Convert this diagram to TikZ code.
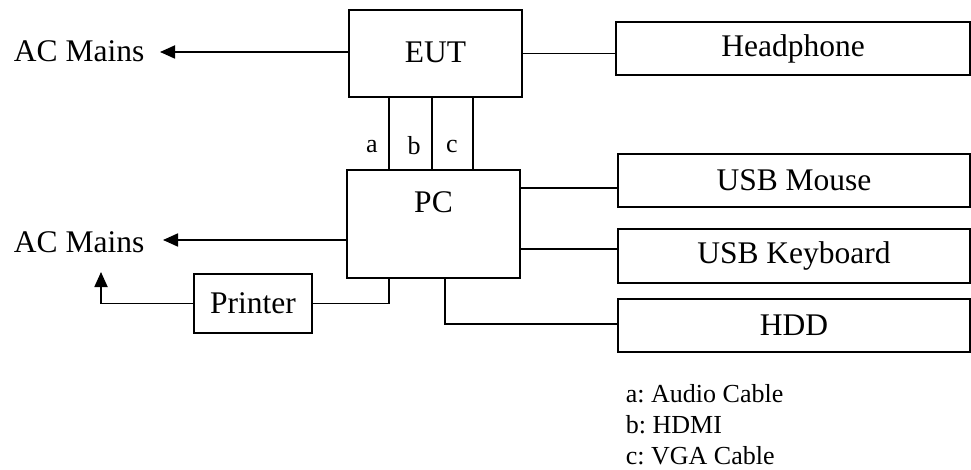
\documentclass[tikz,border=0pt]{standalone}
\usepackage{fontspec}
\setmainfont{Liberation Serif}
\usetikzlibrary{arrows.meta}
\frenchspacing
\tikzset{
  box/.style={draw,line width=1.8pt,inner sep=0pt},
  big/.style={font=\fontsize{31.5}{36}\selectfont,inner sep=0pt},
  small/.style={font=\fontsize{26}{30}\selectfont,inner sep=0pt}
}
\begin{document}
\begin{tikzpicture}[line cap=butt,line join=miter,>={Triangle[length=15pt,width=13pt]},x=1pt,y=-1pt,line width=1.8pt]
\useasboundingbox (0,0) rectangle (971,470);
% boxes
\node[box,minimum width=173pt,minimum height=87pt] (eut) at (435.5,53.5) {};
\node[big] at (435.5,52) {EUT};
\node[box,minimum width=173pt,minimum height=108pt] (pc) at (433.5,224) {};
\node[big] at (433.5,202) {PC};
\node[box,big,minimum width=354pt,minimum height=53pt] (hp) at (793,48.5) {Headphone};
\node[box,big,minimum width=352pt,minimum height=53pt] (mouse) at (794,180.5) {USB Mouse};
\node[box,big,minimum width=352pt,minimum height=54pt] (kbd) at (794,256) {USB Keyboard};
\node[box,big,minimum width=352pt,minimum height=53pt] (hdd) at (794,325.5) {HDD};
\node[box,big,minimum width=118pt,minimum height=59pt] (printer) at (253,303.5) {Printer};
% mains
\node[big,anchor=base west] (acmA) at (13,62) {AC Mains};
\node[big,anchor=base west] (acmB) at (13,253) {AC Mains};
\coordinate (tipA) at (160,52);
\coordinate (tipB) at (163,240);
\coordinate (tipC) at (101,272);
\draw[->] (eut.west |- tipA) -- (tipA);
\draw[->] (pc.west |- tipB) -- (tipB);
\draw[->] (printer.west) -| (tipC);
% cables
\foreach \dx/\lab/\lx/\ly in {-46.5/a/372/153,-3.5/b/414/155,37.5/c/452/153}{
  \draw ([xshift=\dx pt]eut.south) -- ([xshift=\dx pt]eut.south |- pc.north);
  \node[small,anchor=base] at (\lx,\ly) {\lab};
}
\draw (eut.east) -- (eut.east -| hp.west);
\draw ([yshift=-19pt]pc.north east) -- ([yshift=-19pt]pc.north east -| mouse.west);
\draw ([yshift=-80pt]pc.north east) -- ([yshift=-80pt]pc.north east -| kbd.west);
\draw ([xshift=11.5pt]pc.south) |- ([yshift=1.5pt]hdd.west);
\draw (printer.east) -| ([xshift=-44.5pt]pc.south);
% legend
\node[small,anchor=base west] (legA) at (625,402) {a: Audio Cable};
\node[small,anchor=base west] (legB) at (625,433) {b: HDMI};
\node[small,anchor=base west] (legC) at (625,464) {c: VGA Cable};
\end{tikzpicture}
\end{document}
